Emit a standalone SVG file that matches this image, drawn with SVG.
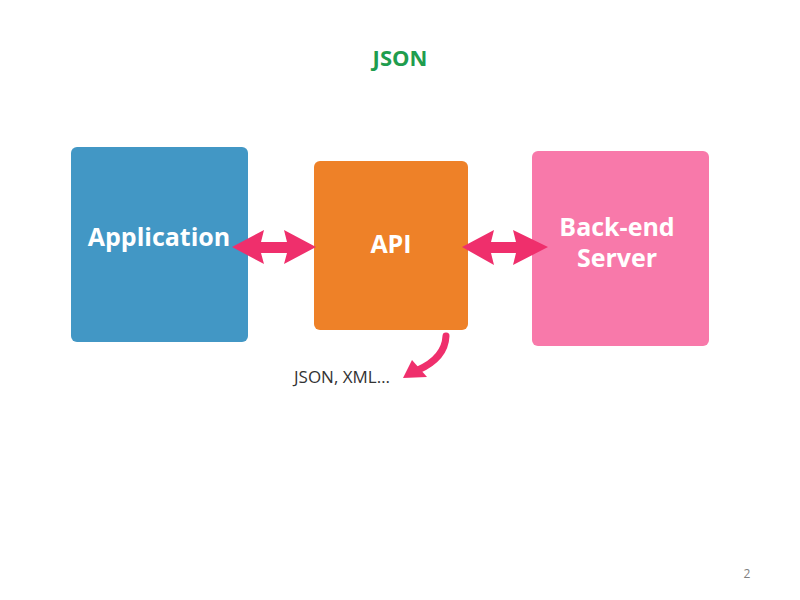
<svg xmlns="http://www.w3.org/2000/svg" width="800" height="600" viewBox="0 0 800 600">
<style>
.box{stroke:none}
.lbl{font-family:"Open Sans","Noto Sans",sans-serif;font-weight:bold;font-size:25px;fill:#ffffff;text-anchor:middle}
.arr{fill:#ef2f6c}
</style>
<rect width="800" height="600" fill="#ffffff"/>
<text x="400" y="66" font-family="'Open Sans','Noto Sans',sans-serif" font-weight="bold" font-size="22" fill="#1f9d4e" text-anchor="middle">JSON</text>
<g id="application">
<rect class="box" x="71" y="147" width="177" height="195" rx="6" fill="#4297c5"/>
<text class="lbl" x="159" y="246">Application</text>
</g>
<g id="api">
<rect class="box" x="314" y="161" width="154" height="169" rx="6" fill="#ee8128"/>
<text class="lbl" x="391" y="253">API</text>
</g>
<g id="backend">
<rect class="box" x="532" y="151" width="177" height="195" rx="6" fill="#f879aa"/>
<text class="lbl" x="617" y="236">Back-end</text>
<text class="lbl" x="617" y="267">Server</text>
</g>
<g id="connectors">
<path class="arr" d="M232,247 L264,230 L261,242 L287,242 L284,230 L316,247 L284,264 L287,253 L261,253 L264,264 Z"/>
<path class="arr" d="M462,247 L494,230 L491,242 L516,242 L513,230 L548,247 L513,265 L516,253 L491,253 L494,265 Z"/>
<path d="M446,336 Q445,358 418,370" fill="none" stroke="#ef2f6c" stroke-width="7" stroke-linecap="round"/>
<path class="arr" d="M403,378 L412,360 L427,377 Z"/>
</g>
<text x="294" y="383" font-family="'Open Sans','Noto Sans',sans-serif" font-size="17" fill="#333333">JSON, XML…</text>
<text x="747" y="578" font-family="'Open Sans','Noto Sans',sans-serif" font-size="12" fill="#7f7f7f" text-anchor="middle">2</text>
</svg>
